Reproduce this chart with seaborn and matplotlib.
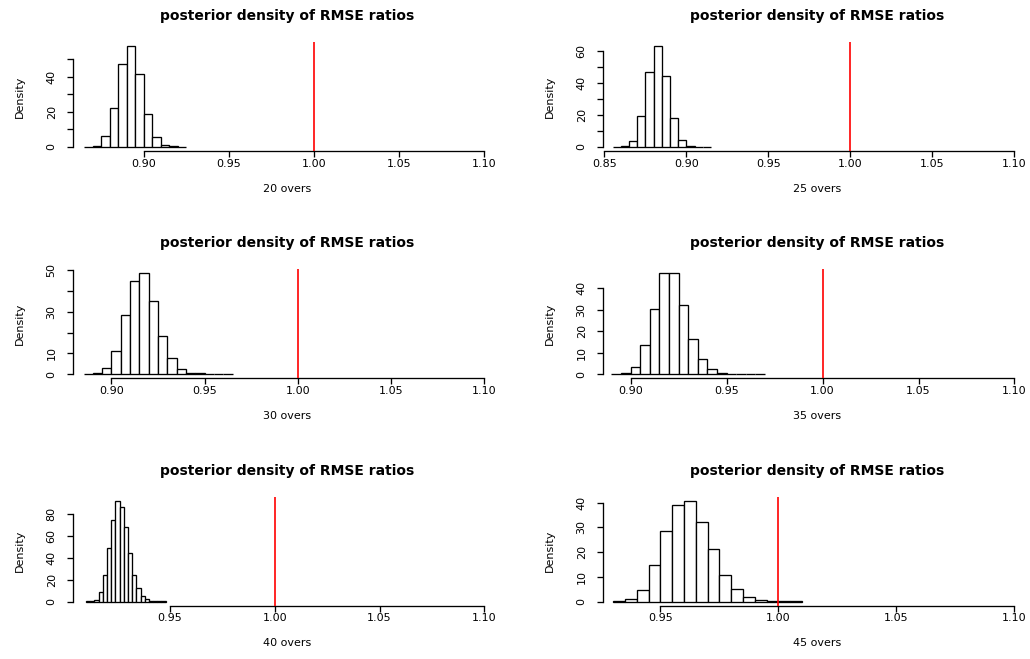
import numpy as np
import pandas as pd
import matplotlib
matplotlib.use("Agg")
import matplotlib.pyplot as plt
import seaborn as sns

# ---------------- data ----------------
titles = ["posterior density of RMSE ratios"] * 6
xlabels = ["20 overs", "25 overs", "30 overs", "35 overs", "40 overs", "45 overs"]

h20 = [0.2, 0.8, 6.2, 22.3, 47.4, 57.4, 41.3, 18.7, 5.7, 1.2, 0.3, 0.1]
h25 = [0.1, 0.6, 3.7, 19.6, 47.1, 63.1, 44.4, 18.1, 4.4, 0.7, 0.2, 0.1]
h30 = [0.3, 0.8, 3.1, 11.4, 28.3, 44.7, 48.6, 35.2, 18.3, 7.6, 2.7, 0.8, 0.4, 0.3, 0.1, 0.2]
h35 = [0.2, 0.7, 3.6, 13.4, 30.5, 46.9, 46.9, 32.1, 16.4, 7.0, 2.3, 0.6, 0.2, 0.1, 0.1, 0.1]
h40 = [0.1, 0.3, 1.8, 8.6, 24.3, 48.9, 75.1, 92.5, 86.9, 68.6, 44.9, 24.3, 12.6, 5.5, 2.2, 0.9, 0.4, 0.2, 0.1]
h45 = [0.2, 0.9, 4.6, 14.6, 28.4, 39.1, 40.8, 32.0, 21.2, 10.7, 5.1, 1.9, 0.6, 0.3, 0.2, 0.1]
heights = [h20, h25, h30, h35, h40, h45]

bin_start = [0.865, 0.855, 0.885, 0.890, 0.910, 0.930]
bin_width = [0.005, 0.005, 0.005, 0.005, 0.002, 0.005]
sample_min = [0.868, 0.859, 0.888, 0.894, 0.9115, 0.9325]
x_upper = 1.10
ref_value = 1.00

xticks = [
    [0.90, 0.95, 1.00, 1.05, 1.10],
    [0.85, 0.90, 0.95, 1.00, 1.05, 1.10],
    [0.90, 0.95, 1.00, 1.05, 1.10],
    [0.90, 0.95, 1.00, 1.05, 1.10],
    [0.95, 1.00, 1.05, 1.10],
    [0.95, 1.00, 1.05, 1.10],
]
yticks = [
    [0, 10, 20, 30, 40, 50],
    [0, 10, 20, 30, 40, 50, 60],
    [0, 10, 20, 30, 40, 50],
    [0, 10, 20, 30, 40],
    [0, 20, 40, 60, 80],
    [0, 10, 20, 30, 40],
]
ytick_labels = [
    ["0", "", "20", "", "40", ""],
    ["0", "", "20", "", "40", "", "60"],
    ["0", "10", "", "30", "", "50"],
    ["0", "10", "20", "30", "40"],
    ["0", "20", "40", "60", "80"],
    ["0", "10", "20", "30", "40"],
]

# ---------------- style ----------------
sns.set_style("ticks")
plt.rcParams["font.family"] = ["DejaVu Sans"]
plt.rcParams["text.color"] = "black"
plt.rcParams["axes.labelcolor"] = "black"
plt.rcParams["xtick.color"] = "black"
plt.rcParams["ytick.color"] = "black"

W, H = 1030, 659
fig = plt.figure(figsize=(W / 100, H / 100), dpi=100)
fig.patch.set_facecolor("white")

col_left = [73.3, 603.3]
row_top = [42.0, 269.3, 496.6]
axw, axh = 427.0, 109.0
lw = 0.95

for i in range(6):
    r, c = divmod(i, 2)
    left, top = col_left[c], row_top[r]
    ax = fig.add_axes([left / W, 1 - (top + axh) / H, axw / W, axh / H])
    ax.set_facecolor("white")

    hts = np.array(heights[i], dtype=float)
    n = len(hts)
    edges = np.linspace(bin_start[i], bin_start[i] + bin_width[i] * n, n + 1)
    centers = (edges[:-1] + edges[1:]) / 2
    df = pd.DataFrame({"ratio": centers, "density": hts})
    sns.histplot(data=df, x="ratio", weights="density", bins=[float(e) for e in edges],
                 stat="count", ax=ax, color="white", edgecolor="black",
                 linewidth=lw, alpha=1.0, zorder=2)
    ax.axvline(ref_value, color="#ff0000", lw=1.2, zorder=3)

    a = sample_min[i]
    rng = x_upper - a
    ax.set_xlim(a - 0.04 * rng, x_upper + 0.04 * rng)
    m = hts.max()
    ax.set_ylim(-0.04 * m, 1.04 * m)

    ax.set_xticks(xticks[i])
    ax.set_xticklabels([f"{v:.2f}" for v in xticks[i]])
    ax.set_yticks(yticks[i])
    ax.set_yticklabels(ytick_labels[i])
    for lab in ax.get_yticklabels():
        lab.set_rotation(90)
        lab.set_va("center")
        lab.set_ha("right")
        lab.set_color("black")
    for lab in ax.get_xticklabels():
        lab.set_color("black")

    ax.set_xlabel("")
    ax.set_ylabel("")
    for s in ["top", "right"]:
        ax.spines[s].set_visible(False)
    ax.spines["left"].set_bounds(yticks[i][0], yticks[i][-1])
    ax.spines["bottom"].set_bounds(xticks[i][0], xticks[i][-1])
    for s in ["left", "bottom"]:
        ax.spines[s].set_linewidth(lw)
        ax.spines[s].set_color("black")
    ax.tick_params(axis="both", direction="out", length=4.5, width=lw,
                   colors="black", labelsize=8)
    ax.tick_params(axis="x", pad=1.0)
    ax.tick_params(axis="y", pad=7.5)

    cx = left + axw / 2
    fig.text(cx / W, 1 - (top - 22) / H, titles[i], ha="center", va="baseline",
             fontsize=10, fontweight="bold", color="black")
    fig.text(cx / W, 1 - (top + axh + 40.7) / H, xlabels[i], ha="center",
             va="baseline", fontsize=8, color="black")
    fig.text((left - 53.5) / W, 1 - (top + axh / 2) / H, "Density", rotation=90,
             ha="center", va="center", fontsize=8, color="black")

fig.savefig("out.png", dpi=100, facecolor="white")
